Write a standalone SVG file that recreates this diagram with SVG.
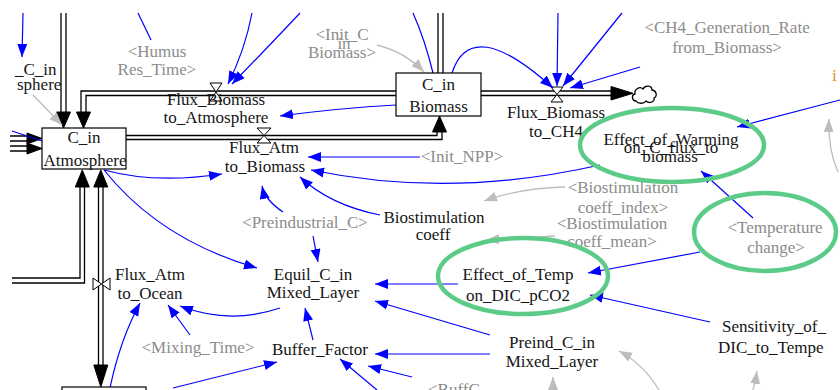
<svg xmlns="http://www.w3.org/2000/svg" width="840" height="390" viewBox="0 0 840 390">
<style>
text{font-family:"Liberation Serif","Times New Roman",serif;font-size:17px;text-anchor:middle;fill:#151515}
text.g{fill:#8c8c8c}
text.s{text-anchor:start}
.pipe{fill:none;stroke:#000;stroke-width:1.3}
.ph{fill:#000;stroke:#000;stroke-width:1}
.box{fill:#fff;stroke:#000;stroke-width:1.2}
.valve{fill:#fff;stroke:#000;stroke-width:1}
.c{fill:none;stroke:#0000ff;stroke-width:1.2}
.ca{fill:none;stroke:#0000ff;stroke-width:1.2;marker-end:url(#ab)}
.cg{fill:none;stroke:#bdbdbd;stroke-width:1.3;marker-end:url(#ag)}
.hl{fill:none;stroke:#5ccb88;stroke-width:4.5}
</style>
<defs>
<marker id="ab" markerUnits="userSpaceOnUse" markerWidth="14" markerHeight="12" refX="13" refY="5" orient="auto"><path d="M0,0 L13,5 L0,10 z" fill="#0000ff"/></marker>
<marker id="ag" markerUnits="userSpaceOnUse" markerWidth="14" markerHeight="12" refX="13" refY="5" orient="auto"><path d="M0,0 L13,5 L0,10 z" fill="#bdbdbd"/></marker>
</defs>
<rect width="840" height="390" fill="#fff"/>

<g id="pipes">
<path class="pipe" d="M61,13 V113 M66,13 V113"/>
<path class="ph" d="M56.5,112 L70.5,112 L63.5,128 z"/>
<path class="pipe" d="M396,91 H81 V113 M396,95.5 H86 V113"/>
<path class="ph" d="M76.5,112 L90.5,112 L83.5,128 z"/>
<path class="pipe" d="M126,135.5 H437 V131 M126,139.5 H442 V131"/>
<path class="ph" d="M432.5,132 L446.5,132 L439.5,116 z"/>
<path class="pipe" d="M438,13 V73 M443,13 V73"/>
<path class="pipe" d="M481,91 H612 M481,95.5 H612"/>
<path class="ph" d="M611,86.5 L611,100 L633,93.3 z"/>
<path class="pipe" d="M636,101 c-4,0 -5,-6 -1,-7 c-1,-5 5,-8 8,-5 c2,-4 9,-4 9,1 c4,0 6,6 2,8 c1,4 -5,6 -8,3 c-2,3 -8,3 -10,0 z"/>
<path class="pipe" d="M12,278 H80 V186 M12,283 H84.5 V186"/>
<path class="ph" d="M75.3,187 L89.3,187 L82.3,170 z"/>
<path class="pipe" d="M98.5,187 V366 M103,187 V366"/>
<path class="ph" d="M93.8,187 L107.8,187 L100.8,170 z"/>
<path class="ph" d="M93.8,365 L107.8,365 L100.8,387 z"/>
<path class="pipe" d="M10,136 H30 M10,141 H30 M10,146 H30 M10,151 H30"/>
<path class="ph" d="M27,133 L42,138.5 L27,144 z"/>
<path class="ph" d="M27,143 L42,148.5 L27,154 z"/>
</g>

<g id="valves">
<path class="valve" d="M210,83 H222 L216,92 z M210,101 H222 L216,92 z"/>
<path class="valve" d="M257,128 H271 L264,135.5 z M257,143 H271 L264,135.5 z"/>
<path class="valve" d="M551,87 H563 L557,94.5 z M551,102 H563 L557,94.5 z"/>
<path class="valve" d="M93,278 V290 L101.5,284 z M110,278 V290 L101.5,284 z"/>
</g>

<g id="connectors">
<path class="ca" d="M23,13 L22,57"/>
<path class="c" d="M138,13 L151,40"/>
<path class="ca" d="M252,13 Q245,50 228,84"/>
<path class="ca" d="M300,13 Q270,45 232,84"/>
<path class="c" d="M413,13 Q425,40 433,73"/>
<path class="ca" d="M452,73 Q471,14 553,88"/>
<path class="ca" d="M558,13 L557,86"/>
<path class="ca" d="M622,13 L563,86"/>
<path class="ca" d="M640,67 L570,88"/>
<path class="ca" d="M396,105 Q340,108 280,116"/>
<path class="ca" d="M420,157 L308,157"/>
<path class="ca" d="M600,165 Q450,199 311,170"/>
<path class="ca" d="M104,170 Q155,184 222,174"/>
<path class="ca" d="M104,170 Q160,240 257,268"/>
<path class="ca" d="M380,215 Q330,205 300,177"/>
<path class="ca" d="M283,212 Q265,200 262,186"/>
<path class="ca" d="M313,236 L318,262"/>
<path class="ca" d="M458,284 L375,284"/>
<path class="ca" d="M840,100 L737,127"/>
<path class="ca" d="M753,218 L701,171"/>
<path class="ca" d="M700,252 L588,273"/>
<path class="ca" d="M710,322 L590,295"/>
<path class="ca" d="M490,335 L375,301"/>
<path class="ca" d="M490,354 L375,354"/>
<path class="ca" d="M313,340 L305,308"/>
<path class="ca" d="M280,308 Q230,325 180,306"/>
<path class="ca" d="M190,335 L168,305"/>
<path class="ca" d="M110,388 Q120,340 140,303"/>
<path class="ca" d="M173,388 L277,362"/>
<path class="ca" d="M377,390 L340,359"/>
<path class="ca" d="M412,377 L368,366"/>
<path class="c" d="M12,131 L42,141"/>
<path class="cg" d="M33,95 L62,125"/>
<path class="cg" d="M377,45 Q405,52 424,72"/>
<path class="cg" d="M565,187 Q520,188 484,201"/>
<path class="cg" d="M555,236 L486,240"/>
<path class="cg" d="M838,172 Q828,150 829,119"/>
<path class="cg" d="M660,392 Q645,365 619,351"/>
<path class="cg" d="M553,392 L553,377"/>
<path class="cg" d="M752,392 Q755,385 757,371"/>
</g>

<g id="C_in_Atmosphere"><rect class="box" x="42" y="128" width="84" height="41"/><text x="84" y="143">C_in</text><text x="85" y="166">Atmosphere</text></g>
<g id="C_in_Biomass"><rect class="box" x="396" y="73" width="85" height="43"/><text x="438.5" y="90">C_in</text><text x="438.5" y="112">Biomass</text></g>
<g id="Bottom_Stock"><rect class="box" x="62" y="387" width="84" height="20"/></g>

<g id="Init_C_in_Atmosphere"><text class="s" x="15" y="75">_C_in</text><text class="s" x="17" y="90">sphere</text></g>
<g id="Humus_Res_Time"><text class="g" x="157" y="57">&lt;Humus</text><text class="g" x="157" y="75">Res_Time&gt;</text></g>
<g id="Flux_Biomass_to_Atmosphere"><text x="216" y="105">Flux_Biomass</text><text x="216" y="123">to_Atmosphere</text></g>
<g id="Init_C_in_Biomass"><text class="g" x="342" y="40">&lt;Init_C</text><text class="g" x="344" y="49">in</text><text class="g" x="342" y="58">Biomass&gt;</text></g>
<g id="Flux_Atm_to_Biomass"><text x="264" y="153">Flux_Atm</text><text x="265" y="172">to_Biomass</text></g>
<g id="Flux_Biomass_to_CH4"><text x="556" y="118">Flux_Biomass</text><text x="556" y="137">to_CH4</text></g>
<g id="CH4_Generation_Rate"><text class="g" x="727" y="33">&lt;CH4_Generation_Rate</text><text class="g" x="727" y="53">from_Biomass&gt;</text></g>
<g id="Clipped_Right"><text x="832" y="81" style="fill:#d98a2a;text-anchor:start">i</text></g>
<g id="Init_NPP"><text class="g" x="462" y="162">&lt;Init_NPP&gt;</text></g>
<g id="Effect_of_Warming"><text x="671" y="145">Effect_of_Warming</text><text x="671" y="153">on_C_flux_to</text><text x="670" y="162">biomass</text></g>
<g id="Biostimulation_coeff_index"><text class="g" x="623" y="193">&lt;Biostimulation</text><text class="g" x="623" y="213">coeff_index&gt;</text></g>
<g id="Biostimulation_coeff"><text x="434" y="223">Biostimulation</text><text x="433" y="240">coeff</text></g>
<g id="Biostimulation_coeff_mean"><text class="g" x="612" y="229">&lt;Biostimulation</text><text class="g" x="612" y="247">coeff_mean&gt;</text></g>
<g id="Preindustrial_C"><text class="g" x="305" y="228">&lt;Preindustrial_C&gt;</text></g>
<g id="Temperature_change"><text class="g" x="775" y="233">&lt;Temperature</text><text class="g" x="776" y="253">change&gt;</text></g>
<g id="Equil_C_in_Mixed_Layer"><text x="313" y="280">Equil_C_in</text><text x="313" y="298">Mixed_Layer</text></g>
<g id="Flux_Atm_to_Ocean"><text x="150" y="280">Flux_Atm</text><text x="150" y="299">to_Ocean</text></g>
<g id="Effect_of_Temp"><text x="518" y="280">Effect_of_Temp</text><text x="518" y="301">on_DIC_pCO2</text></g>
<g id="Sensitivity"><text class="s" x="722" y="332">Sensitivity_of_</text><text class="s" x="718" y="353">DIC_to_Tempe</text></g>
<g id="Preind_C_in_Mixed_Layer"><text x="552" y="348">Preind_C_in</text><text x="552" y="367">Mixed_Layer</text></g>
<g id="Mixing_Time"><text class="g" x="198" y="353">&lt;Mixing_Time&gt;</text></g>
<g id="Buffer_Factor"><text x="320" y="355">Buffer_Factor</text></g>
<g id="BuffC"><text class="g s" x="428" y="395">&lt;BuffC</text></g>

<g id="highlights">
<ellipse class="hl" cx="672" cy="145" rx="92" ry="37"/>
<ellipse class="hl" cx="765" cy="232" rx="71" ry="39"/>
<ellipse class="hl" cx="523" cy="276" rx="85" ry="38"/>
</g>
</svg>
